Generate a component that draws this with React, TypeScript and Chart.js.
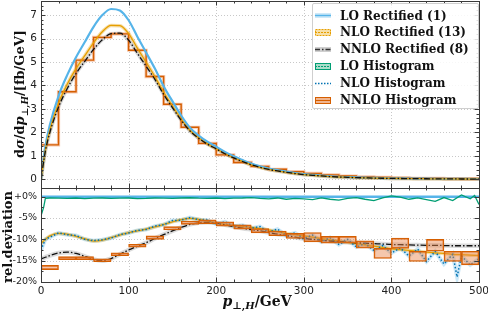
import React, { useEffect, useRef } from 'react';
import { Chart, registerables } from 'chart.js';
Chart.register(...registerables);

// ---------- data ----------
const X_CURVE = [0, 5, 10, 20, 30, 40, 50, 60, 70, 80, 90, 100, 110, 120, 130, 140, 150, 160, 170, 180, 190, 200, 210, 220, 230, 240, 250, 260, 270, 280, 290, 300, 310, 320, 330, 340, 350, 360, 370, 380, 390, 400, 410, 420, 430, 440, 450, 460, 470, 480, 490, 500];
const LO_RECT = [0, 1.4, 2.3, 3.55, 4.45, 5.2, 5.85, 6.5, 7.0, 7.26, 7.2, 6.78, 6.08, 5.4, 4.72, 3.97, 3.33, 2.72, 2.2, 1.86, 1.6, 1.39, 1.17, 0.98, 0.82, 0.67, 0.55, 0.46, 0.39, 0.33, 0.27, 0.22, 0.19, 0.16, 0.13, 0.11, 0.095, 0.08, 0.07, 0.06, 0.052, 0.045, 0.04, 0.035, 0.031, 0.027, 0.024, 0.021, 0.018, 0.016, 0.014, 0.012];
const NLO_RECT = [0, 1.26, 2.09, 3.24, 4.06, 4.72, 5.27, 5.82, 6.29, 6.56, 6.55, 6.21, 5.59, 4.99, 4.38, 3.71, 3.13, 2.57, 2.09, 1.76, 1.51, 1.3, 1.09, 0.91, 0.76, 0.62, 0.51, 0.42, 0.36, 0.3, 0.246, 0.2, 0.172, 0.144, 0.117, 0.099, 0.085, 0.071, 0.062, 0.053, 0.046, 0.04, 0.035, 0.031, 0.027, 0.0235, 0.021, 0.018, 0.0156, 0.0138, 0.0121, 0.0103];
const NNLO_RECT = [0, 1.2, 1.98, 3.08, 3.87, 4.51, 5.03, 5.54, 5.95, 6.21, 6.23, 5.93, 5.37, 4.82, 4.26, 3.62, 3.06, 2.52, 2.06, 1.75, 1.5, 1.3, 1.09, 0.91, 0.76, 0.62, 0.51, 0.42, 0.356, 0.3, 0.244, 0.198, 0.171, 0.144, 0.116, 0.098, 0.085, 0.071, 0.062, 0.053, 0.046, 0.04, 0.0355, 0.031, 0.0275, 0.024, 0.0213, 0.0186, 0.0159, 0.0142, 0.0124, 0.0106];

const HIST_EDGES = [0, 20, 40, 60, 80, 100, 120, 140, 160, 180, 200, 220, 240, 260, 280, 300, 320, 340, 360, 380, 400, 420, 440, 460, 480, 500];
const NNLO_HIST = [1.47, 3.73, 5.08, 6.05, 6.2, 5.5, 4.38, 3.2, 2.22, 1.53, 1.04, 0.72, 0.55, 0.43, 0.33, 0.25, 0.19, 0.14, 0.105, 0.08, 0.06, 0.046, 0.036, 0.028, 0.022];

// relative deviation [%]
const REL_NLO_RECT = [-11, -10, -9.2, -8.6, -8.8, -9.3, -9.9, -10.4, -10.2, -9.6, -9.0, -8.4, -8.0, -7.6, -7.1, -6.5, -5.9, -5.4, -5.1, -5.3, -5.7, -6.2, -6.5, -6.8, -7.0, -7.2, -7.5, -7.8, -8.2, -8.6, -8.9, -9.2, -9.5, -9.8, -10.1, -10.4, -10.7, -11.0, -11.3, -11.6, -11.9, -12.2, -12.4, -12.6, -12.8, -13.0, -13.2, -13.3, -13.5, -13.6, -13.7, -13.8];
const REL_NNLO_RECT = [-14.6, -14.2, -13.8, -13.2, -13.0, -13.3, -14.0, -14.7, -15.0, -14.5, -13.5, -12.5, -11.6, -10.8, -9.8, -8.9, -8.0, -7.2, -6.5, -6.1, -6.0, -6.2, -6.6, -7.0, -7.4, -7.7, -8.0, -8.4, -8.8, -9.1, -9.5, -9.8, -10.0, -10.2, -10.4, -10.5, -10.7, -10.8, -10.9, -11.0, -11.1, -11.2, -11.25, -11.3, -11.35, -11.4, -11.4, -11.45, -11.5, -11.5, -11.5, -11.5];
const X_LO_LINE = [0, 500];
const REL_LO_RECT = [0, 0];

const X_LO_HIST = [0, 3, 5, 10, 20, 30, 40, 50, 60, 70, 80, 90, 100, 110, 120, 130, 140, 150, 160, 170, 180, 190, 200, 210, 220, 230, 240, 250, 260, 270, 280, 290, 300, 310, 320, 330, 340, 350, 360, 370, 380, 390, 400, 410, 420, 430, 440, 450, 460, 470, 480, 490, 495, 500];
const REL_LO_HIST = [-4.5, -2.5, -0.4, -0.3, -0.35, -0.4, -0.3, -0.45, -0.35, -0.3, -0.4, -0.35, -0.3, -0.45, -0.4, -0.3, -0.35, -0.4, -0.3, -0.25, -0.35, -0.4, -0.3, -0.45, -0.35, -0.3, -0.2, -0.4, -0.5, -0.3, -0.6, -0.4, -0.5, -0.7, -0.3, -0.6, -0.8, -0.4, -0.2, -0.6, -0.9, -0.3, 0.2, -0.1, -0.6, -0.3, -0.7, -1.1, -0.2, -0.9, 0.4, -0.5, 0.3, -1.8];

const X_NLO_HIST = [0, 5, 10, 20, 30, 40, 50, 60, 70, 80, 90, 100, 110, 120, 130, 140, 150, 160, 170, 180, 190, 200, 210, 220, 230, 240, 250, 260, 270, 280, 290, 300, 310, 320, 330, 340, 350, 360, 370, 380, 390, 400, 410, 420, 430, 440, 450, 460, 470, 475, 480, 490, 500];
const REL_NLO_HIST = [-12.5, -10, -9.5, -8.5, -8.9, -9.1, -10.0, -10.3, -10.1, -9.7, -8.9, -8.5, -7.9, -7.7, -6.9, -6.6, -5.6, -5.5, -4.9, -5.4, -5.5, -6.4, -5.9, -6.9, -6.7, -7.4, -7.0, -8.3, -7.6, -9.1, -8.5, -9.8, -9.0, -10.6, -9.6, -11.2, -10.0, -11.8, -11.0, -12.6, -11.5, -13.2, -12.0, -13.9, -12.3, -15.2, -12.8, -15.8, -13.5, -18.8, -13.9, -16.0, -14.5];

const REL_NNLO_HIST = [-16.6, -14.4, -14.4, -14.9, -13.5, -11.5, -9.6, -7.4, -6.1, -5.9, -6.4, -7.1, -8.0, -8.6, -9.2, -9.5, -10.1, -10.1, -11.2, -13.3, -10.9, -14.0, -11.4, -14.0, -14.4];
const REL_NNLO_HIST_ERR = [0.5, 0.35, 0.35, 0.35, 0.35, 0.35, 0.4, 0.4, 0.4, 0.45, 0.5, 0.5, 0.5, 0.55, 0.6, 1.1, 0.8, 0.8, 0.85, 1.2, 1.2, 1.2, 1.4, 1.2, 1.6];

const X_TICKS = [0, 100, 200, 300, 400, 500];
const TOP_Y_TICKS = [0, 1, 2, 3, 4, 5, 6, 7];
const BOT_Y_TICKS = [0, -5, -10, -15, -20];

// ---------- helpers ----------
const C_LO = '#56B4E9';
const C_NLO = '#E69F00';
const C_LOH = '#009E73';
const C_NLOH = '#0072B2';
const C_NNLOH = '#D55E00';

const pts = (xs: number[], ys: number[]) => xs.map((x, i) => ({ x, y: ys[i] }));
const stepPts = (edges: number[], vals: number[]) => {
  const out = vals.map((v, i) => ({ x: edges[i], y: v }));
  out.push({ x: edges[edges.length - 1], y: vals[vals.length - 1] });
  return out;
};
const range = (a: number, b: number, s: number) => {
  const r: number[] = [];
  for (let v = a; v <= b + 1e-9; v += s) r.push(+v.toFixed(4));
  return r;
};
const noPad = (s: any) => { s.paddingTop = 0; s.paddingBottom = 0; s.paddingLeft = 0; s.paddingRight = 0; };

const framePlugin = {
  id: 'frame',
  beforeDatasetsDraw(chart: any, _a: any, opts: any) {
    const { ctx, chartArea: a, scales } = chart;
    ctx.save();
    ctx.strokeStyle = '#c8c8c8';
    ctx.lineWidth = 1;
    ctx.setLineDash([1, 2]);
    for (const v of opts.xMajor) {
      const px = Math.round(scales.x.getPixelForValue(v)) + 0.5;
      if (px <= a.left + 2 || px >= a.right - 2) continue;
      ctx.beginPath(); ctx.moveTo(px, a.top); ctx.lineTo(px, a.bottom); ctx.stroke();
    }
    for (const v of opts.yMajor) {
      const py = Math.round(scales.y.getPixelForValue(v)) + 0.5;
      if (py <= a.top + 2 || py >= a.bottom - 2) continue;
      ctx.beginPath(); ctx.moveTo(a.left, py); ctx.lineTo(a.right, py); ctx.stroke();
    }
    ctx.restore();
  },
  afterDatasetsDraw(chart: any, _a: any, opts: any) {
    const { ctx, chartArea: a, scales } = chart;
    ctx.save();
    ctx.strokeStyle = '#3a3a3a';
    ctx.lineWidth = 1;
    ctx.setLineDash([]);
    const tick = (vals: number[], len: number, axis: 'x' | 'y') => {
      for (const v of vals) {
        if (axis === 'x') {
          const px = Math.round(scales.x.getPixelForValue(v)) + 0.5;
          ctx.beginPath();
          ctx.moveTo(px, a.top); ctx.lineTo(px, a.top + len);
          ctx.moveTo(px, a.bottom); ctx.lineTo(px, a.bottom - len);
          ctx.stroke();
        } else {
          const py = Math.round(scales.y.getPixelForValue(v)) + 0.5;
          if (py < a.top || py > a.bottom) continue;
          ctx.beginPath();
          ctx.moveTo(a.left, py); ctx.lineTo(a.left + len, py);
          ctx.moveTo(a.right, py); ctx.lineTo(a.right - len, py);
          ctx.stroke();
        }
      }
    };
    tick(opts.xMinor, 2.5, 'x');
    tick(opts.xMajor, 4.5, 'x');
    tick(opts.yMinor, 2.5, 'y');
    tick(opts.yMajor, 4.5, 'y');
    ctx.strokeRect(Math.round(a.left) + 0.5, Math.round(a.top) + 0.5, Math.round(a.right - a.left), Math.round(a.bottom - a.top));
    ctx.restore();
  },
};

const tickFont = { family: 'DejaVu Sans', size: 10.5 };
const pctFont = { family: 'DejaVu Sans', size: 9.5 };

function line(data: any[], color: string, width: number, extra: any = {}) {
  return {
    data,
    borderColor: color,
    borderWidth: width,
    pointRadius: 0,
    fill: false,
    ...extra,
  };
}

export default function App() {
  const topRef = useRef<HTMLCanvasElement>(null);
  const botRef = useRef<HTMLCanvasElement>(null);

  useEffect(() => {
    document.body.style.margin = '0';
    const smooth = { cubicInterpolationMode: 'monotone' };
    const top = new Chart(topRef.current!, {
      type: 'line',
      data: {
        datasets: [
          line(pts(X_CURVE, NNLO_RECT), '#111', 1.3, { ...smooth, borderDash: [6, 2, 1.5, 2] }),
          line(pts(X_CURVE, NLO_RECT), C_NLO, 1.3, smooth),
          line(pts(X_CURVE, LO_RECT), C_LO, 2.2, smooth),
          line(stepPts(HIST_EDGES, NNLO_HIST), C_NNLOH, 1.4, { stepped: 'before' }),
          line(stepPts(HIST_EDGES, NNLO_HIST), 'rgba(230,120,60,0.4)', 3.2, { stepped: 'before' }),
          line(pts(X_CURVE, NNLO_RECT), 'rgba(140,140,140,0.35)', 3.5, smooth),
          line(pts(X_CURVE, NLO_RECT), 'rgba(230,159,0,0.35)', 3.5, smooth),
        ] as any,
      },
      options: {
        responsive: false,
        animation: false,
        events: [],
        layout: { padding: { top: 1, right: 9, bottom: 2, left: 0 } },
        plugins: {
          legend: { display: false },
          tooltip: { enabled: false },
          frame: { xMajor: X_TICKS, xMinor: range(0, 500, 20), yMajor: TOP_Y_TICKS, yMinor: range(0, 7.6, 0.2) },
        } as any,
        scales: {
          x: { type: 'linear', min: 0, max: 500, display: false, offset: false },
          y: {
            type: 'linear', min: -0.37, max: 7.6,
            grid: { display: false, drawTicks: false },
            border: { display: false },
            afterFit: (s: any) => { s.width = 41; noPad(s); },
            afterBuildTicks: (s: any) => { s.ticks = TOP_Y_TICKS.map((v) => ({ value: v })); },
            ticks: { font: tickFont, color: '#222', padding: 4, callback: (v: any) => String(v) },
          },
        },
      } as any,
      plugins: [framePlugin],
    });

    const bars = REL_NNLO_HIST.map((c, i) => ({
      x: (HIST_EDGES[i] + HIST_EDGES[i + 1]) / 2,
      y: [c - REL_NNLO_HIST_ERR[i], c + REL_NNLO_HIST_ERR[i]],
    }));

    const bot = new Chart(botRef.current!, {
      type: 'line',
      data: {
        datasets: [
          {
            type: 'bar', data: bars, backgroundColor: 'rgba(232,130,70,0.45)', borderColor: C_NNLOH,
            borderWidth: 1, borderSkipped: false, barPercentage: 1, categoryPercentage: 1, grouped: false,
          },
          line(pts(X_NLO_HIST, REL_NLO_HIST), C_NLOH, 1.5, { borderDash: [1.5, 2] }),
          line(pts(X_CURVE, REL_NNLO_RECT), '#111', 1.3, { ...smooth, borderDash: [6, 2, 1.5, 2] }),
          line(pts(X_CURVE, REL_NLO_RECT), C_NLO, 1.3, smooth),
          line(pts(X_LO_HIST, REL_LO_HIST), C_LOH, 1.3),
          line(pts(X_LO_LINE, REL_LO_RECT), C_LO, 2.5),
          line(pts(X_NLO_HIST, REL_NLO_HIST), 'rgba(86,180,233,0.3)', 4),
          line(pts(X_CURVE, REL_NNLO_RECT), 'rgba(140,140,140,0.3)', 4.5, smooth),
          line(pts(X_CURVE, REL_NLO_RECT), 'rgba(230,159,0,0.35)', 3.5, smooth),
        ] as any,
      },
      options: {
        responsive: false,
        animation: false,
        events: [],
        layout: { padding: { top: 2, right: 9, bottom: 0, left: 0 } },
        plugins: {
          legend: { display: false },
          tooltip: { enabled: false },
          frame: { xMajor: X_TICKS, xMinor: range(0, 500, 20), yMajor: BOT_Y_TICKS, yMinor: range(-20, 0, 2.5) },
        } as any,
        scales: {
          x: {
            type: 'linear', min: 0, max: 500, offset: false,
            grid: { display: false, drawTicks: false, offset: false },
            border: { display: false },
            afterFit: (s: any) => { s.height = 30; noPad(s); },
            afterBuildTicks: (s: any) => { s.ticks = X_TICKS.map((v) => ({ value: v })); },
            ticks: { font: tickFont, color: '#222', padding: 3, maxRotation: 0, autoSkip: false, callback: (v: any) => String(v) },
          },
          y: {
            type: 'linear', min: -20, max: 2.04,
            grid: { display: false, drawTicks: false },
            border: { display: false },
            afterFit: (s: any) => { s.width = 41; noPad(s); },
            afterBuildTicks: (s: any) => { s.ticks = BOT_Y_TICKS.map((v) => ({ value: v })); },
            ticks: { font: pctFont, color: '#222', padding: 4, callback: (v: any) => (v === 0 ? '+0%' : `${v}%`) },
          },
        },
      } as any,
      plugins: [framePlugin],
    });

    return () => { top.destroy(); bot.destroy(); };
  }, []);

  const serif = '"DejaVu Serif", serif';
  const legendItems: { label: string; sw: React.ReactNode }[] = [
    { label: 'LO Rectified (1)', sw: (<><rect x="0" y="2" width="16" height="5" fill="#cfe9f8" /><line x1="0" y1="4.5" x2="16" y2="4.5" stroke={C_LO} strokeWidth="1.5" /></>) },
    { label: 'NLO Rectified (13)', sw: (<><rect x="0.5" y="1.5" width="15" height="6" fill="#f7dfa6" stroke={C_NLO} strokeDasharray="2 1" /><line x1="0" y1="4.5" x2="16" y2="4.5" stroke={C_NLO} strokeWidth="1" strokeDasharray="2 1" /></>) },
    { label: 'NNLO Rectified (8)', sw: (<><rect x="0" y="2" width="16" height="5" fill="#cfcfcf" /><line x1="0" y1="4.5" x2="16" y2="4.5" stroke="#333" strokeWidth="1.5" strokeDasharray="5 2 1.5 2" /></>) },
    { label: 'LO Histogram', sw: (<><rect x="0.5" y="1.5" width="15" height="6" fill="#a9dcc9" stroke={C_LOH} /><line x1="0" y1="4.5" x2="16" y2="4.5" stroke={C_LOH} strokeWidth="1" strokeDasharray="2 1" /></>) },
    { label: 'NLO Histogram', sw: (<><line x1="0" y1="4.5" x2="16" y2="4.5" stroke={C_NLOH} strokeWidth="1.5" strokeDasharray="1.5 1.5" /></>) },
    { label: 'NNLO Histogram', sw: (<><rect x="0.5" y="1.5" width="15" height="6" fill="#f0b58f" stroke={C_NNLOH} /><line x1="0" y1="4.5" x2="16" y2="4.5" stroke={C_NNLOH} strokeWidth="1" /></>) },
  ];

  return (
    <div style={{ position: 'fixed', left: 0, top: 0, width: 488, height: 312, background: '#fff', overflow: 'hidden' }}>
      <canvas ref={topRef} width={488} height={190} style={{ position: 'absolute', left: 0, top: 0 }} />
      <canvas ref={botRef} width={488} height={126} style={{ position: 'absolute', left: 0, top: 186 }} />

      <div style={{ position: 'absolute', left: 21, top: 94, transform: 'translate(-50%,-50%) rotate(-90deg)', whiteSpace: 'nowrap', font: `bold 13px ${serif}`, color: '#111' }}>
        d<i>σ</i>/d<i>p</i><sub style={{ fontSize: 9 }}>⊥,<i>H</i></sub>/[fb/GeV]
      </div>
      <div style={{ position: 'absolute', left: 7, top: 237, transform: 'translate(-50%,-50%) rotate(-90deg)', whiteSpace: 'nowrap', font: `bold 13px ${serif}`, color: '#111', lineHeight: '13px' }}>
        rel.deviation
      </div>
      <div style={{ position: 'absolute', left: 257, top: 302, transform: 'translate(-50%,-50%)', whiteSpace: 'nowrap', font: `bold 14px ${serif}`, color: '#111' }}>
        <i>p</i><sub style={{ fontSize: 10 }}>⊥,<i>H</i></sub>/GeV
      </div>

      <div style={{ position: 'absolute', left: 312, top: 3, width: 165, height: 104, border: '1px solid #cfcfcf', borderRadius: 2, background: 'rgba(255,255,255,0.85)' }}>
        {legendItems.map((it, i) => (
          <div key={i} style={{ position: 'absolute', left: 2, top: 3 + i * 16.9, height: 17, display: 'flex', alignItems: 'center', whiteSpace: 'nowrap' }}>
            <svg width="16" height="9" style={{ marginRight: 9 }}>{it.sw}</svg>
            <span style={{ font: `bold 12px ${serif}`, color: '#111' }}>{it.label}</span>
          </div>
        ))}
      </div>
    </div>
  );
}
